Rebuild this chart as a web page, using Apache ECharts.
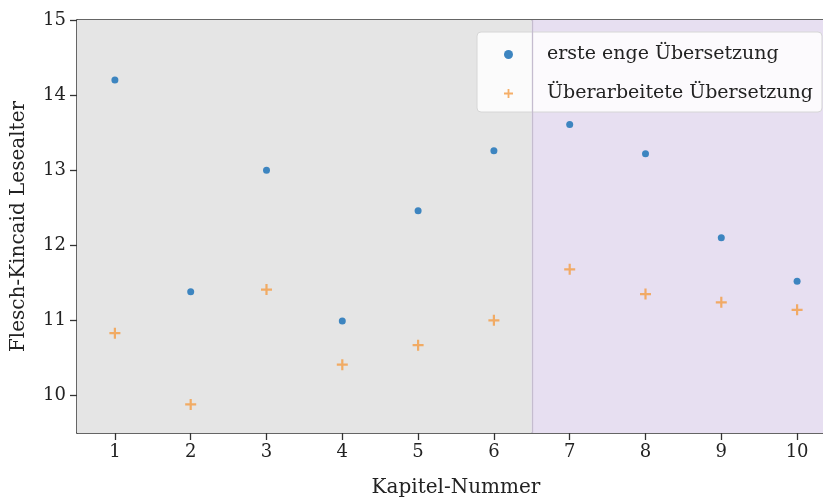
<!DOCTYPE html>
<html>
<head>
<meta charset="utf-8">
<script src="https://cdn.jsdelivr.net/npm/echarts@6/dist/echarts.min.js"></script>
<style>html,body{margin:0;padding:0;background:#fff}#c{width:823px;height:498px}</style>
</head>
<body>
<div id="c"></div>
<script>
const chapters = [1, 2, 3, 4, 5, 6, 7, 8, 9, 10];
const ersteEnge = [14.2, 11.38, 13.0, 10.99, 12.46, 13.26, 13.61, 13.22, 12.1, 11.52];
const ueberarbeitet = [10.83, 9.88, 11.41, 10.41, 10.67, 11.0, 11.68, 11.35, 11.24, 11.14];
const yTicks = [10, 11, 12, 13, 14, 15];
const seriesNames = ['erste enge Übersetzung', 'Überarbeitete Übersetzung'];
const xMin = 0.5, xSplit = 6.5, xMax = 10.5;

const FONT = 'DejaVu Serif';
const plus = 'path://M4,0 L6,0 L6,4 L10,4 L10,6 L6,6 L6,10 L4,10 L4,6 L0,6 L0,4 L4,4 Z';
const chart = echarts.init(document.getElementById('c'), null, {renderer: 'canvas'});
const axisCol = '#333';
chart.setOption({
  animation: false,
  grid: {left: 77, top: 20, width: 758, height: 413, outerBoundsMode: 'none', containLabel: false},
  legend: {
    left: 477, top: 32, orient: 'vertical',
    backgroundColor: 'rgba(255,255,255,0.85)', borderColor: '#d6d6d6', borderWidth: 1, borderRadius: 4,
    padding: [13, 9, 9, 27], itemGap: 20, itemWidth: 9, itemHeight: 9,
    textStyle: {fontFamily: FONT, fontSize: 19, color: '#222', padding: [0, 0, 0, 29]},
    data: seriesNames
  },
  xAxis: [{
    type: 'value', min: xMin, max: xMax,
    name: 'Kapitel-Nummer', nameLocation: 'middle', nameGap: 45,
    nameTextStyle: {fontFamily: FONT, fontSize: 20, color: '#222'},
    axisLine: {lineStyle: {color: axisCol, width: 1.5}},
    axisTick: {show: true, length: 7, lineStyle: {color: axisCol, width: 1.3}, customValues: chapters},
    axisLabel: {fontFamily: FONT, fontSize: 18, color: '#222', margin: 10, customValues: chapters},
    splitLine: {show: false}
  }, {
    type: 'value', position: 'top', min: xMin, max: xMax,
    axisLine: {show: true, lineStyle: {color: axisCol, width: 1.5}},
    axisTick: {show: false}, axisLabel: {show: false}, splitLine: {show: false}
  }],
  yAxis: {
    type: 'value', min: 9.5, max: 15,
    name: 'Flesch-Kincaid Lesealter', nameLocation: 'middle', nameGap: 48,
    nameTextStyle: {fontFamily: FONT, fontSize: 20, color: '#222'},
    axisLine: {show: true, lineStyle: {color: axisCol, width: 1.5}},
    axisTick: {show: true, length: 7, lineStyle: {color: axisCol, width: 1.3}, customValues: yTicks},
    axisLabel: {fontFamily: FONT, fontSize: 18, color: '#222', margin: 11, customValues: yTicks},
    splitLine: {show: false}
  },
  series: [{
    name: seriesNames[0], type: 'scatter', symbol: 'circle', symbolSize: 7,
    itemStyle: {color: '#3d85c0', opacity: 1},
    data: chapters.map((c, i) => [c, ersteEnge[i]]),
    z: 5,
    markArea: {
      silent: true,
      data: [
        [{xAxis: xMin, itemStyle: {color: '#e5e5e5'}}, {xAxis: xSplit}],
        [{xAxis: xSplit, itemStyle: {color: '#e7dff1'}}, {xAxis: xMax}]
      ]
    },
    markLine: {
      silent: true, symbol: 'none', label: {show: false},
      lineStyle: {color: '#c5bccf', width: 1.3, type: 'solid'},
      data: [{xAxis: xSplit}]
    }
  }, {
    name: seriesNames[1], type: 'scatter', symbol: plus, symbolSize: 11,
    itemStyle: {color: '#f49c43'},
    data: chapters.map((c, i) => [c, ueberarbeitet[i]]),
    z: 5
  }]
});
</script>
</body>
</html>
